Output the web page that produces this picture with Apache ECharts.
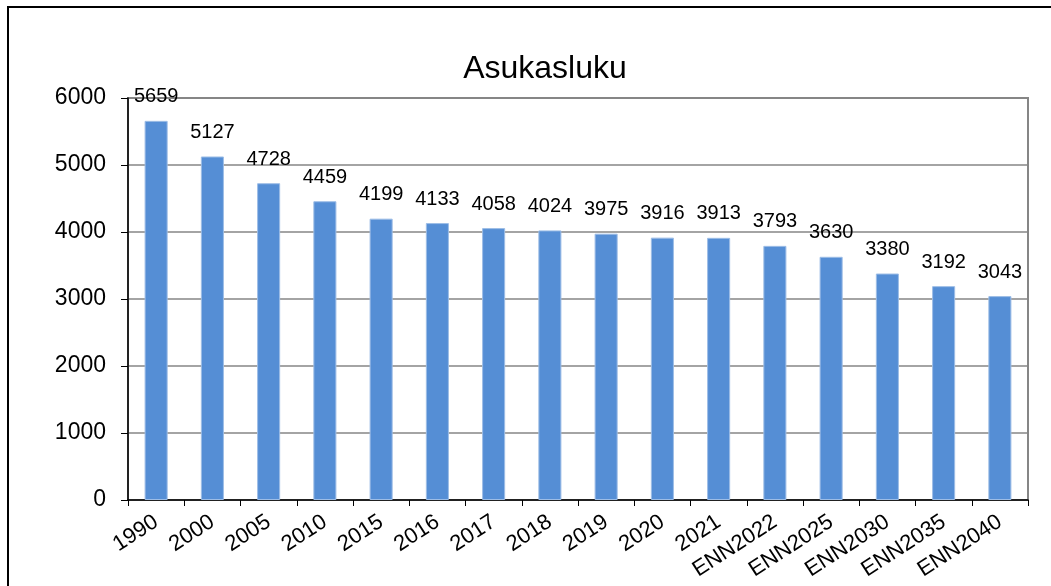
<!DOCTYPE html>
<html><head><meta charset="utf-8">
<script src="https://cdn.jsdelivr.net/npm/echarts@6/dist/echarts.min.js"></script>
<style>html,body{margin:0;padding:0;background:#fff}#c{width:1051px;height:586px}</style>
</head><body><div id="c"></div>
<script>
const categories = ['1990','2000','2005','2010','2015','2016','2017','2018','2019','2020','2021','ENN2022','ENN2025','ENN2030','ENN2035','ENN2040'];
const population = [5659,5127,4728,4459,4199,4133,4058,4024,3975,3916,3913,3793,3630,3380,3192,3043];
const yTicks = [0,1000,2000,3000,4000,5000,6000];
const chartTitle = 'Asukasluku';

const chart = echarts.init(document.getElementById('c'), null, {renderer:'canvas'});
const F = 'Liberation Sans, Arial, sans-serif';
chart.setOption({
  animation:false,
  backgroundColor:'#fff',
  title:{text:chartTitle,left:540,top:48,textAlign:'center',textStyle:{fontFamily:F,fontSize:32,fontWeight:'normal',color:'#000'}},
  graphic:[
    {type:'rect',shape:{x:8,y:7,width:1100,height:700},style:{fill:'none',stroke:'#000',lineWidth:2},silent:true},
    {type:'rect',shape:{x:128,y:98,width:900,height:402},style:{fill:'none',stroke:'#868686',lineWidth:2},silent:true,z:-1}
  ],
  grid:{left:128,right:23,top:98,bottom:86,containLabel:false},
  xAxis:{type:'category',data:categories,
    axisLine:{lineStyle:{color:'#000',width:1.5}},
    axisTick:{show:true,alignWithLabel:false,length:6,lineStyle:{color:'#000',width:1}},
    axisLabel:{rotate:33,interval:0,fontFamily:F,fontSize:22,color:'#000',margin:20}},
  yAxis:{type:'value',min:yTicks[0],max:yTicks[yTicks.length-1],interval:1000,
    axisLine:{show:true,lineStyle:{color:'#000',width:1.5}},
    axisTick:{show:true,length:7,lineStyle:{color:'#000'}},
    splitLine:{lineStyle:{color:'#868686',width:1.5}},
    axisLabel:{fontFamily:F,fontSize:23,color:'#000',margin:22,formatter:v=>String(v)}},
  series:[{type:'bar',data:population,barWidth:'41%',
    itemStyle:{color:'#558ED5',borderColor:'#9DBDE6',borderWidth:1},
    label:{show:true,position:'top',distance:14,fontFamily:F,fontSize:20,color:'#000'}}]
});
</script></body></html>
